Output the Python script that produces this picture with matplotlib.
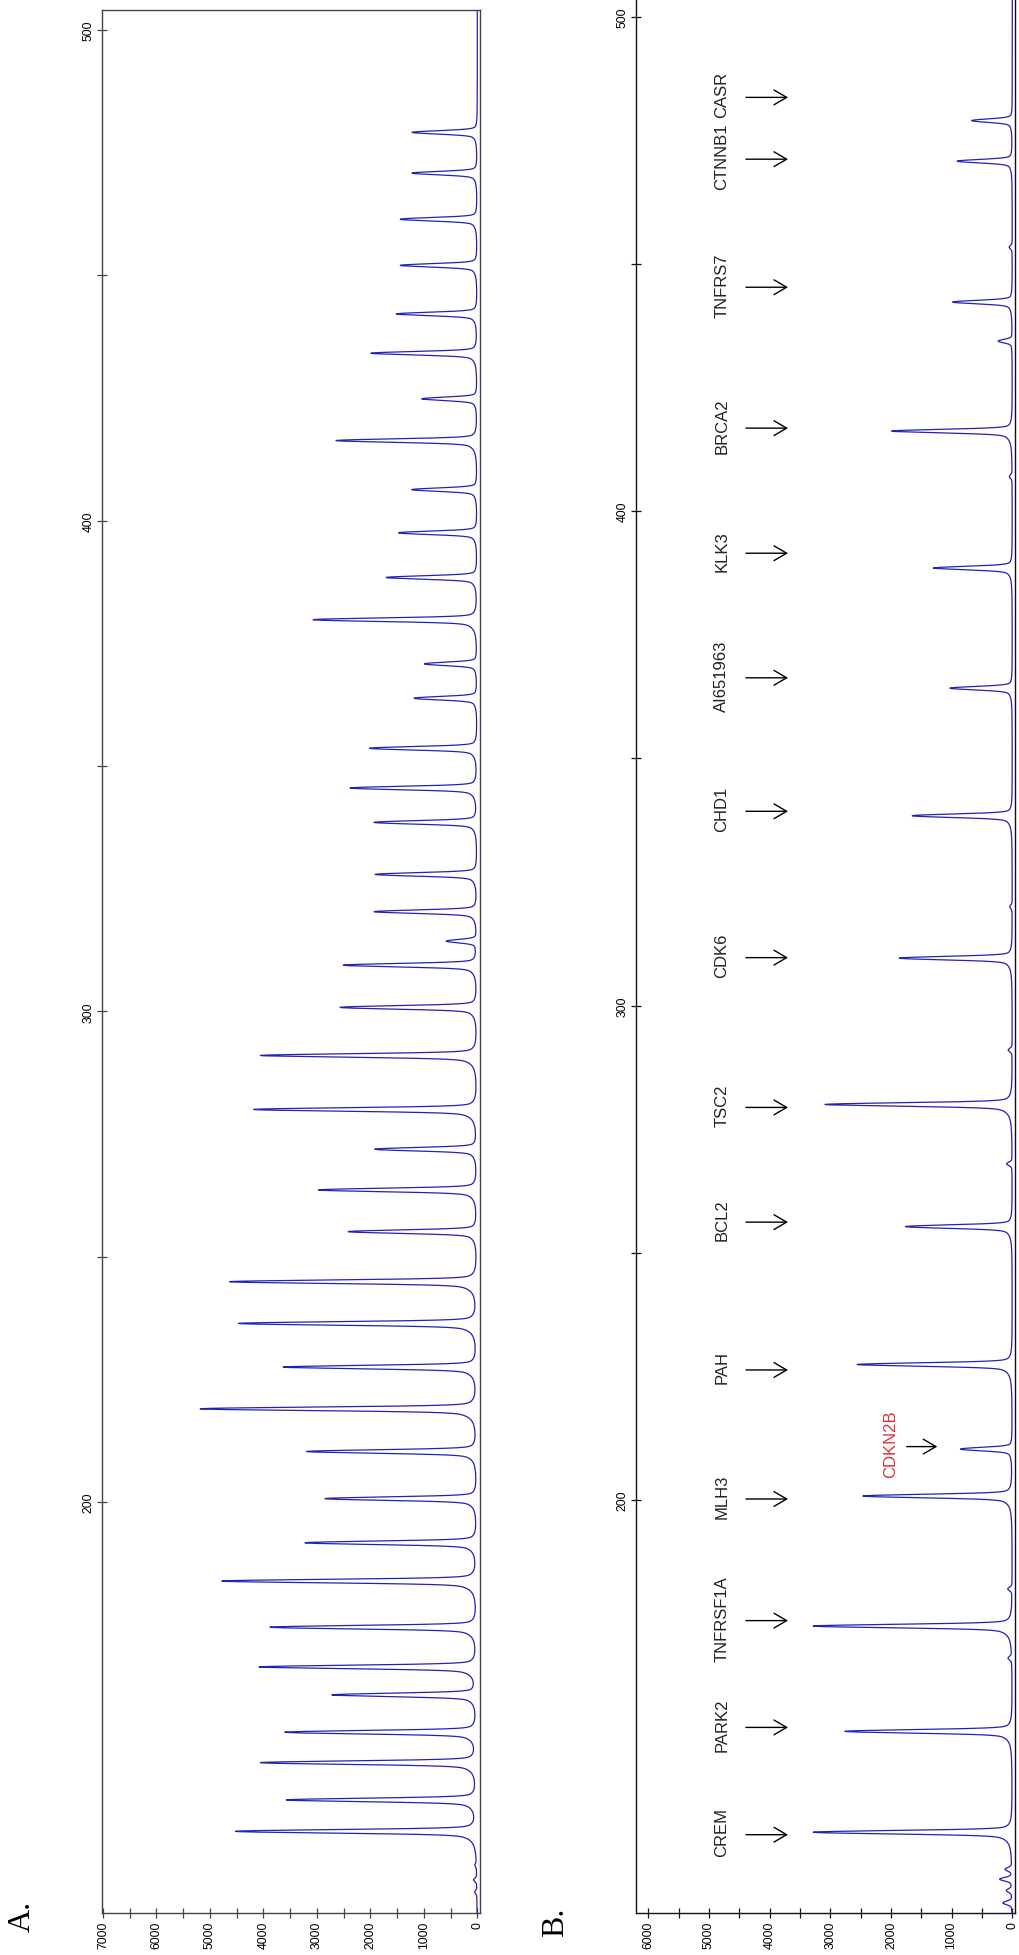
import numpy as np
import matplotlib.pyplot as plt
from matplotlib.ticker import FixedLocator

plt.rcParams['font.family'] = ['Liberation Sans', 'DejaVu Sans']

# Panel A: peak positions (bp) and peak heights (RFU)
a_size = [132.9, 139.3, 146.9, 153.1, 160.7, 166.4, 174.5, 183.9, 191.7, 200.7,
          210.3, 219.0, 227.5, 236.4, 244.9, 255.1, 263.6, 271.9, 280.0, 291.0,
          300.8, 309.4, 314.3, 320.3, 327.9, 338.5, 345.5, 353.6, 363.8, 370.8,
          379.8, 388.4, 397.5, 406.3, 416.3, 424.8, 434.1, 442.1, 452.0, 461.4,
          470.8, 479.1]
a_height = [4505, 3553, 4038, 3584, 2694, 4063, 3864, 4766, 3210, 2837,
            3179, 5170, 3615, 4455, 4623, 2402, 2962, 1904, 4175, 4050,
            2557, 2495, 566, 1923, 1904, 1923, 2371, 2010, 1176, 983,
            3067, 1699, 1468, 1220, 2638, 1033, 1985, 1512, 1437, 1437,
            1220, 1220]
a_noise_size = [120.5, 123.0, 126.0]
a_noise_height = [40, 60, 30]

# Panel B: labelled peaks plus small baseline bumps
b_size = [132.8, 153.2, 174.5, 200.8, 210.3, 227.4, 255.3, 280.0, 309.6, 338.4,
          364.2, 388.5, 416.2, 434.4, 442.3, 470.8, 479.0]
b_height = [3280, 2758, 3280, 2460, 852, 2555, 1758, 3088, 1862, 1648,
            1027, 1302, 1989, 231, 983, 906, 670]
b_noise_size = [118.5, 121.0, 123.3, 125.3, 168.0, 182.0, 268.0, 291.0, 320.0, 407.0, 453.4]
b_noise_height = [150, 90, 200, 110, 60, 70, 90, 65, 40, 45, 50]

b_labels = ['CREM', 'PARK2', 'TNFRSF1A', 'MLH3', 'CDKN2B', 'PAH', 'BCL2', 'TSC2',
            'CDK6', 'CHD1', 'AI651963', 'KLK3', 'BRCA2', 'TNFRS7', 'CTNNB1', 'CASR']
b_label_at = [132.3, 154.0, 175.6, 200.2, 210.8, 226.3, 256.2, 279.4,
              309.7, 339.3, 366.3, 391.5, 416.8, 445.3, 471.2, 483.7]

size_ticks = [200, 300, 400, 500]
size_minor = [250, 350, 450]


def trace(grid, centers, heights):
    sig = np.zeros_like(grid)
    for c, h in zip(centers, heights):
        d = grid - c
        core = np.exp(-0.5 * (d / 0.33) ** 2)
        gam = np.where(d < 0, 0.9, 0.6)
        tail = 1.0 / (1.0 + (d / gam) ** 2)
        sig += h * (0.85 * core + 0.15 * tail)
    return sig


grid = np.arange(116.0, 505.0, 0.01)
sig_a = trace(grid, a_size + a_noise_size, a_height + a_noise_height)
sig_b = trace(grid, b_size + b_noise_size, b_height + b_noise_height)

W, H = 1020, 1956
fig = plt.figure(figsize=(W / 100, H / 100), dpi=100)


def add_panel(l, r, t, b, xlim, ylim, xmax_tick, spine_col):
    ax = fig.add_axes([l / W, (H - b) / H, (r - l) / W, (b - t) / H])
    ax.set_xlim(*xlim)
    ax.set_ylim(*ylim)
    ax.xaxis.set_major_locator(FixedLocator(list(range(0, xmax_tick + 1, 1000))))
    ax.xaxis.set_minor_locator(FixedLocator(list(range(500, xmax_tick, 1000))))
    ax.yaxis.set_major_locator(FixedLocator(size_ticks))
    ax.yaxis.set_minor_locator(FixedLocator(size_minor))
    ax.tick_params(which='both', direction='inout', length=7, width=0.9,
                   color=spine_col, labelsize=8.8, pad=2)
    ax.tick_params(axis='x', labelrotation=90)
    ax.tick_params(axis='y', labelrotation=90)
    plt.setp(ax.get_yticklabels(), va='center')
    for s in ax.spines.values():
        s.set_color(spine_col)
        s.set_linewidth(1.0)
    return ax


ax_a = add_panel(102.3, 480, 10.7, 1914.3, (7013, -50), (116.2, 504.1), 7000, '#444444')
ax_a.plot(sig_a, grid, color='#2222b4', lw=0.9)

ax_b = add_panel(636.3, 1015, 0, 1914.3, (6198, -45), (116.4, 503.6), 6000, '#111111')
ax_b.spines['top'].set_visible(False)
ax_b.plot(sig_b, grid, color='#2222b4', lw=0.9)

for name, y in zip(b_labels, b_label_at):
    if name == 'CDKN2B':
        tx, a0, a1, col = 2004, 1740, 1236, '#e0303a'
    else:
        tx, a0, a1, col = 4790, 4390, 3697, '#222222'
    ax_b.text(tx, y + 0.6, name, rotation=90, ha='center', va='center',
              fontsize=12, color=col)
    ax_b.annotate('', xy=(a1, y), xytext=(a0, y),
                  arrowprops=dict(arrowstyle='->,head_length=0.65,head_width=0.38',
                                  lw=1.0, color='black', shrinkA=0, shrinkB=0,
                                  mutation_scale=14))

fig.text(22 / W, 1 - 1916 / H, 'A.', rotation=90, ha='center', va='center',
         fontsize=23, family='Liberation Serif')
fig.text(556 / W, 1 - 1922 / H, 'B.', rotation=90, ha='center', va='center',
         fontsize=23, family='Liberation Serif')

fig.savefig('out.png', dpi=100)
